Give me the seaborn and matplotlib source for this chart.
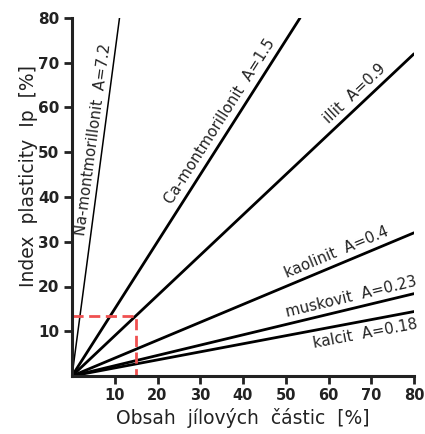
import numpy as np
import pandas as pd
import matplotlib
matplotlib.use('Agg')
import matplotlib.pyplot as plt
import seaborn as sns

# mineraly: aktivita A = Ip / obsah jilovych castic
mineraly = ['Na-montmorillonit', 'Ca-montmorillonit', 'illit', 'kaolinit', 'muskovit', 'kalcit']
aktivita = [7.2, 1.5, 0.9, 0.4, 0.23, 0.18]
a_text = ['7.2', '1.5', '0.9', '0.4', '0.23', '0.18']
x_konec = [80 / 7.2, 80 / 1.5, 80, 80, 80, 80]       # kde cara konci
x_popis = [7.3, 37, 68, 63, 66, 68]                   # kde stoji popisek
odstup = [2, 3, 3, 3, 3, -4]                          # odsazeni popisku od cary (body)
tloustka = [1.1, 2, 2, 2, 2, 2]

# cerveny priklad: 15 % jilu -> Ip ~ 13.5 %
priklad_x = [0, 15, 15]
priklad_y = [13.5, 13.5, 0]

tick_vals = [10, 20, 30, 40, 50, 60, 70, 80]

sns.set_style('ticks')
plt.rcParams['font.family'] = ['DejaVu Sans']

fig = plt.figure(figsize=(4.25, 4.34), dpi=100)
ax = fig.add_axes([72 / 425, (434 - 376) / 434, (414 - 72) / 425, (376 - 18) / 434])

for naz, a, xe, lw in zip(mineraly, aktivita, x_konec, tloustka):
    df = pd.DataFrame({'x': [0, xe], 'y': [0, a * xe]})
    sns.lineplot(data=df, x='x', y='y', color='black', lw=lw, ax=ax)

sns.lineplot(x=priklad_x, y=priklad_y, sort=False, estimator=None, color='#f05050', lw=2,
             linestyle=(0, (4, 2)), ax=ax)

ax.set_xlim(0, 80)
ax.set_ylim(0, 80)
ax.set_xticks(tick_vals)
ax.set_yticks(tick_vals)
ax.set_xticklabels([str(t) for t in tick_vals], fontweight='bold', fontsize=10.5, color='#222222')
ax.set_yticklabels([str(t) for t in tick_vals], fontweight='bold', fontsize=11, color='#222222')
ax.tick_params(axis='both', length=6, width=2, color='#222222', pad=3)
for s in ['top', 'right']:
    ax.spines[s].set_visible(False)
for s in ['left', 'bottom']:
    ax.spines[s].set_linewidth(2.2)
    ax.spines[s].set_color('#222222')

ax.set_xlabel('Obsah  jílových  částic  [%]', fontsize=13.5, color='#222222')
ax.set_ylabel('Index  plasticity  Ip  [%]', fontsize=13.5, color='#222222')
ax.xaxis.set_label_coords(0.50, -0.09)
ax.yaxis.set_label_coords(-0.10, 0.56)

# popisky podel car
for naz, a, at, xp, d in zip(mineraly, aktivita, a_text, x_popis, odstup):
    ang = ax.transData.transform_angles(np.array([np.degrees(np.arctan(a))]),
                                        np.array([[xp, a * xp]]))[0]
    off = (-np.sin(np.radians(ang)) * d, np.cos(np.radians(ang)) * d)
    va = 'top' if d < 0 else 'bottom'
    ax.annotate(f'{naz}  A={at}', xy=(xp, a * xp), xytext=off, textcoords='offset points',
                rotation=ang, rotation_mode='anchor', ha='center', va=va,
                fontsize=10.8, color='#222222')

fig.savefig('out.png', dpi=100)
